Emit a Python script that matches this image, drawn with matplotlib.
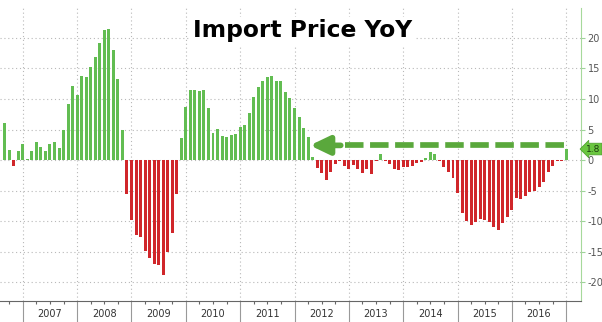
import numpy as np
import pandas as pd
import matplotlib
matplotlib.use("Agg")
import matplotlib.pyplot as plt

# monthly import price change, % year over year (Aug 2006 - Dec 2016)
MONTHS = pd.period_range("2006-08", "2016-12", freq="M")
YOY = [
    6.1, 1.6, -1.0, 1.4, 2.6,                                              # 2006
    0.2, 1.4, 2.9, 2.2, 1.4, 2.6, 2.9, 2.0, 5.0, 9.2, 12.1, 10.7,          # 2007
    13.7, 13.6, 15.2, 16.8, 19.1, 21.3, 21.4, 18.1, 13.2, 4.9, -5.6, -9.8, # 2008
    -12.3, -12.6, -14.9, -16.1, -17.0, -17.2, -18.9, -15.1, -11.9, -5.5, 3.6, 8.7,  # 2009
    11.5, 11.4, 11.3, 11.4, 8.6, 4.5, 5.1, 4.0, 3.8, 4.1, 4.3, 5.4,        # 2010
    5.7, 7.7, 10.3, 12.0, 13.0, 13.6, 13.8, 13.0, 12.9, 11.1, 10.1, 8.6,   # 2011
    7.0, 5.2, 3.7, 0.5, -1.3, -2.2, -3.3, -2.0, -0.6, -0.1, -1.0, -1.5,    # 2012
    -0.8, -1.5, -2.2, -1.5, -2.3, -0.1, 1.0, -0.1, -0.7, -1.5, -1.6, -1.1, # 2013
    -1.1, -1.0, -0.5, -0.4, 0.3, 1.3, 1.0, -0.2, -1.1, -1.9, -2.9, -5.4,   # 2014
    -8.6, -10.0, -10.6, -10.2, -9.7, -9.8, -10.1, -11.0, -11.4, -10.3, -9.4, -8.2,  # 2015
    -6.3, -6.4, -5.9, -5.2, -5.0, -4.5, -3.6, -2.0, -1.0, -0.2, -0.1, 1.8,  # 2016
]
YEARS = list(range(2007, 2017))
Y_TICKS = [-20, -15, -10, -5, 0, 5, 10, 15, 20]
ARROW_LEVEL = 2.4

GREEN = "#62bd52"
RED = "#d0262a"
ARROW = "#5aa83c"

plt.rcParams["axes.unicode_minus"] = False

x = np.arange(len(YOY))
month_no = MONTHS.month.values
year_edges = x[month_no == 12]                 # bars sit at month end
quarters = x[np.isin(month_no, [3, 6, 9, 12])]

fig = plt.figure(figsize=(6.02, 3.22), dpi=100)
fig.patch.set_facecolor("white")
ax = fig.add_axes([0.0, 0.0652, 0.9646, 0.9098])

colors = [GREEN if v >= 0 else RED for v in YOY]
ax.bar(x, YOY, width=0.66, color=colors, zorder=2)

ax.set_xlim(-1.04, 127.2)
ax.set_ylim(-23.1, 24.9)

# right hand value axis
ax.yaxis.tick_right()
ax.set_yticks(Y_TICKS)
ax.tick_params(axis="y", length=3, width=0.8, color="#9fd49a",
               labelsize=7, labelcolor="#555555", pad=2)

# year separators below the axis and quarter ticks
ax.set_xticks(year_edges)
ax.set_xticklabels([])
ax.set_xticks(quarters, minor=True)
ax.tick_params(axis="x", which="major", length=15, width=0.8, color="#999999")
ax.tick_params(axis="x", which="minor", length=2.5, width=0.8, color="#666666")
xt = ax.get_xaxis_transform()
for k, yr in enumerate(YEARS):
    mid = (year_edges[k] + year_edges[k + 1]) / 2
    ax.text(mid, -0.045, str(yr), transform=xt, ha="center", va="center",
            fontsize=7, color="#333333")

ax.grid(True, which="major", linestyle=(0, (1, 2.5)), color="#b8b8b8",
        linewidth=0.8, zorder=0)
ax.set_axisbelow(True)

for s in ("left", "top"):
    ax.spines[s].set_visible(False)
ax.spines["right"].set_color("#a6d99b")
ax.spines["bottom"].set_color("#666666")
ax.spines["bottom"].set_linewidth(0.8)

# dashed pointer running back from the latest print
ax.plot([75.1, 123.7], [ARROW_LEVEL, ARROW_LEVEL], color=ARROW, lw=4.1,
        linestyle=(0, (3.25, 1.15)), dash_capstyle="butt", zorder=4)
ax.annotate("", xy=(67.4, ARROW_LEVEL), xytext=(74.2, ARROW_LEVEL),
            arrowprops=dict(arrowstyle="-|>,head_length=1.15,head_width=0.55",
                            lw=4.1, color=ARROW, shrinkA=0, shrinkB=0,
                            mutation_scale=10), zorder=4)

# latest value tag on the axis
ax.annotate(f"{YOY[-1]:.1f}", xy=(1.0, YOY[-1]), xycoords=("axes fraction", "data"),
            xytext=(4, 0), textcoords="offset points", ha="left", va="center",
            fontsize=6.5, color="#1d3d10", annotation_clip=False,
            bbox=dict(boxstyle="larrow,pad=0.15", fc="#6ac640", ec="#4c9a2a", lw=0.5))

fig.text(0.5025, 0.904, "Import Price YoY", ha="center", va="center",
         fontsize=16.8, fontweight="bold", color="black",
         bbox=dict(facecolor="white", edgecolor="none", pad=2))

fig.savefig("out.png", dpi=100, facecolor="white")
plt.close(fig)
